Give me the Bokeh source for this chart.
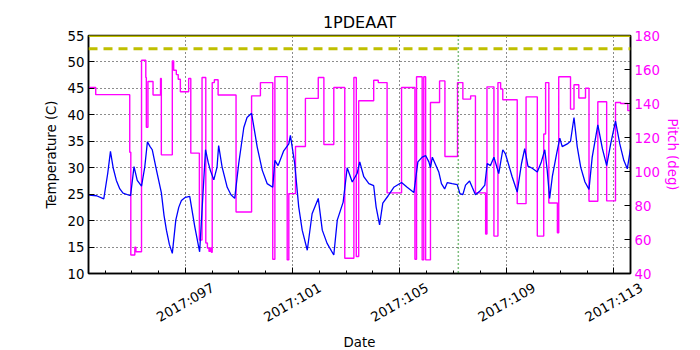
import math
from bokeh.plotting import figure
from bokeh.layouts import column, row
from bokeh.models import Range1d, LinearAxis, FixedTicker, Span
from bokeh.core.properties import value
from bokeh.embed import file_html
from bokeh.resources import INLINE

# ---------------- data ----------------
tick_days = [97, 101, 105, 109, 113]
tick_labels = ["2017:097", "2017:101", "2017:105", "2017:109", "2017:113"]
minor_days = list(range(94, 114))

temp_day = [93.40, 93.68, 93.95, 94.10, 94.20, 94.30, 94.42, 94.55, 94.67, 94.95,
            95.08, 95.20, 95.36, 95.48, 95.58, 95.68, 95.76, 95.92, 96.10, 96.20,
            96.29, 96.40, 96.51, 96.64, 96.75, 96.85, 97.00, 97.16, 97.35, 97.53,
            97.75, 97.85, 97.93, 98.06, 98.18, 98.24, 98.37, 98.56, 98.70, 98.84,
            98.99, 99.18, 99.30, 99.47, 99.68, 99.87, 100.05, 100.26, 100.34, 100.46,
            100.67, 100.86, 100.92, 101.08, 101.23, 101.36, 101.55, 101.73, 101.96, 102.11,
            102.29, 102.54, 102.67, 102.89, 103.04, 103.23, 103.41, 103.51, 103.66, 103.85,
            104.03, 104.12, 104.25, 104.37, 104.57, 104.78, 105.07, 105.28, 105.53, 105.68,
            105.84, 105.97, 106.09, 106.15, 106.22, 106.46, 106.56, 106.68, 106.78, 106.96,
            107.15, 107.25, 107.36, 107.46, 107.61, 107.71, 107.83, 108.02, 108.18, 108.27,
            108.39, 108.52, 108.70, 108.85, 108.95, 109.08, 109.20, 109.39, 109.55, 109.67,
            109.79, 109.95, 110.14, 110.29, 110.42, 110.51, 110.60, 110.70, 110.86, 110.98,
            111.07, 111.26, 111.38, 111.51, 111.63, 111.76, 111.92, 112.07, 112.19, 112.40,
            112.57, 112.73, 112.88, 113.06, 113.22, 113.37, 113.50, 113.62]
temp_c = [24.8, 24.7, 24.1, 29.0, 33.1, 30.0, 27.6, 26.0, 25.2, 24.7,
          30.2, 27.6, 26.5, 30.1, 34.9, 34.0, 33.4, 29.5, 25.3, 21.0,
          18.2, 15.5, 13.8, 20.1, 22.5, 23.8, 24.4, 24.6, 18.8, 14.1,
          33.4, 31.0, 29.5, 27.7, 30.1, 34.2, 30.1, 26.3, 24.9, 24.2,
          30.8, 37.6, 39.5, 40.3, 33.9, 29.5, 27.0, 26.3, 31.4, 30.4,
          33.2, 34.5, 36.1, 30.8, 22.6, 18.2, 14.4, 21.3, 24.2, 18.2,
          15.7, 13.5, 20.1, 23.5, 30.0, 27.3, 28.9, 31.1, 28.3, 27.0,
          26.6, 22.6, 19.2, 23.3, 24.7, 26.3, 27.2, 26.3, 25.3, 31.1,
          32.0, 32.3, 31.1, 30.0, 32.0, 29.2, 27.0, 26.0, 27.2, 27.0,
          26.8, 25.1, 24.9, 26.7, 27.5, 26.3, 24.9, 25.7, 26.7, 30.8,
          30.4, 32.0, 28.9, 33.4, 32.6, 30.4, 28.3, 25.4, 30.8, 33.6,
          30.3, 29.9, 29.2, 31.1, 33.4, 29.5, 24.2, 28.3, 32.6, 35.6,
          34.0, 34.5, 35.0, 39.5, 34.0, 30.1, 27.3, 25.9, 32.0, 38.1,
          33.6, 30.4, 34.5, 38.8, 34.5, 31.4, 29.8, 33.6]

# pitch: value held from each start day until the next one
pitch_day = [93.40, 93.65, 94.92, 94.96, 95.11, 95.15, 95.36, 95.52, 95.54, 95.60,
             95.79, 96.07, 96.10, 96.51, 96.56, 96.66, 96.73, 96.81, 97.12, 97.20,
             97.52, 97.62, 97.76, 97.82, 97.88, 97.93, 97.97, 98.00, 98.08, 98.22,
             98.89, 99.47, 99.80, 100.26, 100.34, 100.80, 100.86, 101.11, 101.48, 101.96,
             102.17, 102.54, 102.95, 103.29, 103.38, 103.47, 104.03, 104.20, 104.53, 105.07,
             105.57, 105.63, 105.84, 105.90, 105.97, 106.15, 106.49, 106.69, 107.16, 107.36,
             107.65, 107.83, 108.21, 108.26, 108.52, 108.67, 108.77, 108.85, 109.39, 109.72,
             110.14, 110.38, 110.45, 110.57, 110.89, 110.94, 111.38, 111.51, 111.69, 111.94,
             112.07, 112.40, 112.73, 113.06, 113.25, 113.52, 113.62]
pitch_deg = [149.4, 145.2, 111.3, 50.9, 55.4, 52.8, 165.4, 155.3, 126.0, 152.9,
             145.0, 154.7, 109.8, 165.0, 159.6, 157.0, 154.3, 146.9, 154.7, 110.8,
             59.7, 155.3, 57.9, 55.0, 53.0, 55.0, 52.5, 152.3, 154.0, 145.0,
             76.2, 144.5, 152.3, 48.4, 155.8, 48.0, 87.0, 114.7, 143.0, 155.3,
             115.9, 149.4, 49.0, 155.3, 50.0, 141.6, 153.7, 152.3, 87.4, 149.4,
             48.4, 155.7, 48.0, 155.7, 48.0, 140.6, 153.3, 108.8, 152.3, 142.6,
             144.5, 87.4, 63.2, 149.8, 62.0, 152.3, 148.5, 142.2, 81.1, 143.9,
             62.0, 122.1, 152.3, 81.5, 64.0, 155.7, 136.7, 151.0, 143.2, 149.0,
             82.5, 141.0, 82.7, 140.6, 140.0, 135.8, 135.8]

temp_limit_top = 55.0
temp_limit_warn = 52.5
marker_day = 107.19

# ---------------- layout constants ----------------
FONT = "DejaVu Sans"
X0, X1 = 93.38, 113.62
W = 700
LEFT, RIGHT = 88, 70            # frame borders of the main chart
TOP, MAIN_H = 35, 280           # main chart height (frame bottom at 273)
LAB_H = 350 - MAIN_H            # strip below, holding the date labels and "Date"

# ---------------- main chart ----------------
p = figure(width=W, height=MAIN_H, output_backend="svg", toolbar_location=None,
           x_range=Range1d(X0, X1), y_range=Range1d(10, 55),
           min_border_left=LEFT, min_border_right=RIGHT, min_border_top=TOP,
           min_border_bottom=MAIN_H - 273, title="1PDEAAT")
p.extra_y_ranges = {"pitch": Range1d(40, 180)}

p.title.align = "center"
p.title.text_font = FONT
p.title.text_font_size = "16px"
p.title.text_font_style = "normal"
p.title.text_color = "black"
p.title.standoff = 8

p.outline_line_color = "black"
p.outline_line_width = 1.5
p.background_fill_color = "white"

xa = p.xaxis[0]
xa.ticker = FixedTicker(ticks=tick_days, minor_ticks=minor_days)
xa.major_label_text_color = None
xa.major_label_text_font_size = "1px"

ya = p.yaxis[0]
ya.ticker = FixedTicker(ticks=list(range(10, 56, 5)))
ya.axis_label = "Temperature (C)"

ra = LinearAxis(y_range_name="pitch", axis_label="Pitch (deg)",
                ticker=FixedTicker(ticks=list(range(40, 181, 20))))
p.add_layout(ra, "right")

for ax in (ya, ra):
    ax.major_label_text_font = FONT
    ax.major_label_text_font_size = "13.3px"
    ax.axis_label_text_font = FONT
    ax.axis_label_text_font_size = "13.3px"
    ax.axis_label_text_font_style = "normal"
    ax.major_label_standoff = 4
    ax.axis_label_standoff = 6
for ax in (xa, ya, ra):
    ax.major_tick_in = 6
    ax.major_tick_out = 0
    ax.minor_tick_in = 3
    ax.minor_tick_out = 0
    ax.axis_line_color = "black"
    ax.axis_line_width = 1.5
ya.major_label_text_color = "black"
ya.axis_label_text_color = "black"
ya.minor_tick_line_color = None
ra.minor_tick_line_color = None
ra.major_label_text_color = "#ff00ff"
ra.axis_label_text_color = "#ff00ff"
ra.axis_label_standoff = 2
xa.major_label_standoff = 0
xa.axis_label_standoff = 0

p.xgrid.ticker = FixedTicker(ticks=tick_days)
p.ygrid.ticker = FixedTicker(ticks=list(range(10, 56, 5)))
for g in (p.xgrid[0], p.ygrid[0]):
    g.grid_line_color = "black"
    g.grid_line_dash = "1 3"
    g.grid_line_width = 1
    g.grid_line_alpha = 0.9

p.step(pitch_day, pitch_deg, mode="after", y_range_name="pitch",
       line_color="#ff00ff", line_width=1.4)
p.line(temp_day, temp_c, line_color="#0000ff", line_width=1.3)

p.add_layout(Span(location=temp_limit_warn, dimension="width", line_color="#bfbf00",
                  line_width=3, line_dash="9 6"))
p.add_layout(Span(location=temp_limit_top, dimension="width", line_color="#bfbf00",
                  line_width=3))
p.add_layout(Span(location=marker_day, dimension="height", line_color="#008000",
                  line_width=1.5, line_dash="1 3"))

# ---------------- date-label strip (same day scale as the chart) ----------------
px_per_day = (W - LEFT - RIGHT) / (X1 - X0)
q = figure(width=W, height=LAB_H, output_backend="svg", toolbar_location=None,
           x_range=Range1d(X0, X0 + (W - LEFT) / px_per_day), y_range=Range1d(0, LAB_H),
           min_border_left=LEFT, min_border_right=0, min_border_top=0, min_border_bottom=0,
           x_axis_location=None, y_axis_location=None)
q.outline_line_color = None
q.grid.visible = False
q.text(x=tick_days, y=[LAB_H - 22] * len(tick_days), text=tick_labels,
       angle=30, angle_units="deg", text_align="center", text_baseline="middle",
       text_font=value(FONT), text_font_size="13.3px", text_color="black")
q.text(x=[(X0 + X1) / 2], y=[LAB_H - 62], text=["Date"],
       text_align="center", text_baseline="alphabetic",
       text_font=value(FONT), text_font_size="13.3px", text_color="black")

layout = column(p, row(q), spacing=0)
open("out.html", "w").write(file_html(layout, INLINE))
